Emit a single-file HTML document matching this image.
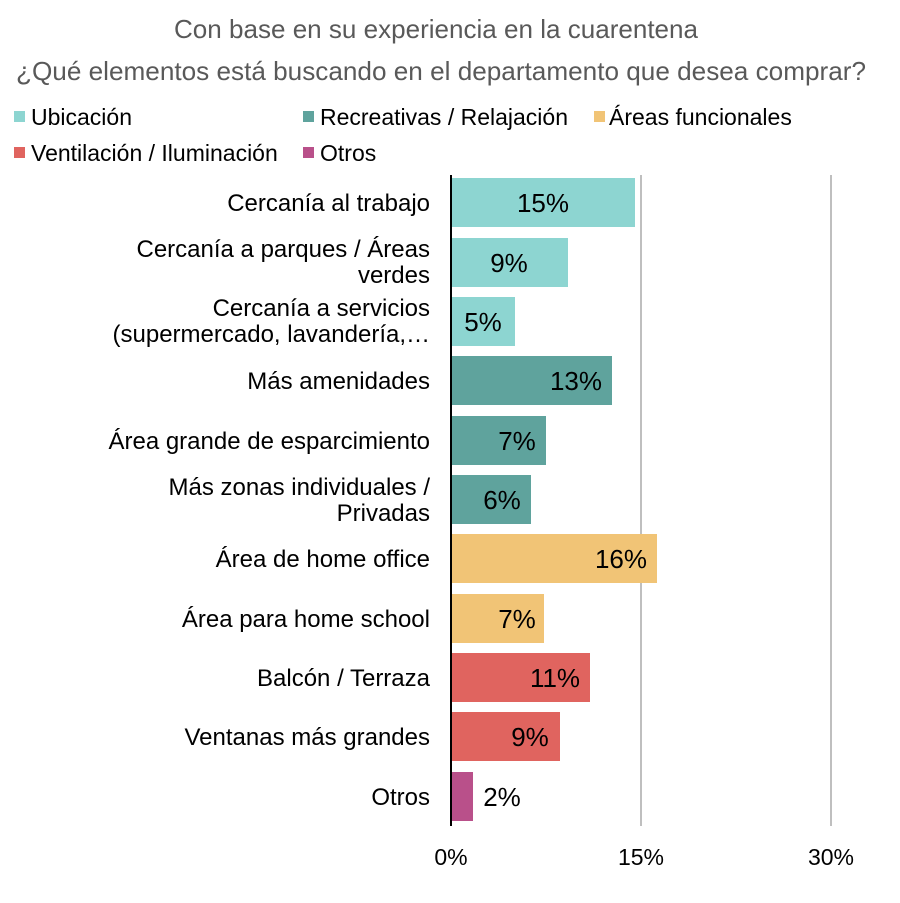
<!DOCTYPE html>
<html><head><meta charset="utf-8"><style>
html,body{margin:0;padding:0;background:#fff}
svg text{font-family:"Liberation Sans",Arial,sans-serif}
</style></head><body>
<svg width="900" height="898" viewBox="0 0 900 898" xmlns="http://www.w3.org/2000/svg">
<rect width="900" height="898" fill="#fff"/>
<text x="436" y="38" font-size="26" fill="#595959" text-anchor="middle" textLength="524" lengthAdjust="spacingAndGlyphs">Con base en su experiencia en la cuarentena</text>
<text x="441" y="80" font-size="26" fill="#595959" text-anchor="middle" textLength="850" lengthAdjust="spacingAndGlyphs">¿Qué elementos está buscando en el departamento que desea comprar?</text>
<g font-size="23" fill="#000">
<rect x="14" y="111" width="11" height="11" fill="#8dd5d1"/><text x="31" y="125">Ubicación</text>
<rect x="303" y="111" width="11" height="11" fill="#5fa39d"/><text x="320" y="125">Recreativas / Relajación</text>
<rect x="594" y="111" width="11" height="11" fill="#f1c476"/><text x="609" y="125">Áreas funcionales</text>
<rect x="14" y="147" width="11" height="11" fill="#e0645f"/><text x="31" y="161">Ventilación / Iluminación</text>
<rect x="303" y="147" width="11" height="11" fill="#b9508a"/><text x="320" y="161">Otros</text>
</g>
<line x1="641" y1="175" x2="641" y2="826" stroke="#bfbfbf" stroke-width="2"/>
<line x1="831" y1="175" x2="831" y2="826" stroke="#bfbfbf" stroke-width="2"/>
<g>
<rect x="451" y="178" width="184" height="49" fill="#8dd5d1"/>
<rect x="451" y="238" width="117" height="49" fill="#8dd5d1"/>
<rect x="451" y="297" width="64" height="49" fill="#8dd5d1"/>
<rect x="451" y="356" width="161" height="49" fill="#5fa39d"/>
<rect x="451" y="416" width="95" height="49" fill="#5fa39d"/>
<rect x="451" y="475" width="80" height="49" fill="#5fa39d"/>
<rect x="451" y="534" width="206" height="49" fill="#f1c476"/>
<rect x="451" y="594" width="93" height="49" fill="#f1c476"/>
<rect x="451" y="653" width="139" height="49" fill="#e0645f"/>
<rect x="451" y="712" width="109" height="49" fill="#e0645f"/>
<rect x="451" y="772" width="22" height="49" fill="#b9508a"/>
</g>
<line x1="451" y1="175" x2="451" y2="826" stroke="#000" stroke-width="2"/>
<g font-size="26" fill="#000" text-anchor="middle">
<text x="543" y="212">15%</text>
<text x="509" y="272">9%</text>
<text x="483" y="331">5%</text>
<text x="576" y="390">13%</text>
<text x="517" y="450">7%</text>
<text x="502" y="509">6%</text>
<text x="621" y="568">16%</text>
<text x="517" y="628">7%</text>
<text x="555" y="687">11%</text>
<text x="530" y="746">9%</text>
<text x="502" y="806">2%</text>
</g>
<g font-size="24" fill="#000" text-anchor="end">
<text x="430" y="211">Cercanía al trabajo</text>
<text x="430" y="257">Cercanía a parques / Áreas</text>
<text x="430" y="283">verdes</text>
<text x="430" y="316">Cercanía a servicios</text>
<text x="430" y="342">(supermercado, lavandería,…</text>
<text x="430" y="389">Más amenidades</text>
<text x="430" y="449">Área grande de esparcimiento</text>
<text x="430" y="495">Más zonas individuales /</text>
<text x="430" y="521">Privadas</text>
<text x="430" y="567">Área de home office</text>
<text x="430" y="627">Área para home school</text>
<text x="430" y="686">Balcón / Terraza</text>
<text x="430" y="745">Ventanas más grandes</text>
<text x="430" y="805">Otros</text>
</g>
<g font-size="23" fill="#000" text-anchor="middle">
<text x="451" y="865">0%</text>
<text x="641" y="865">15%</text>
<text x="831" y="865">30%</text>
</g>
</svg>
</body></html>
